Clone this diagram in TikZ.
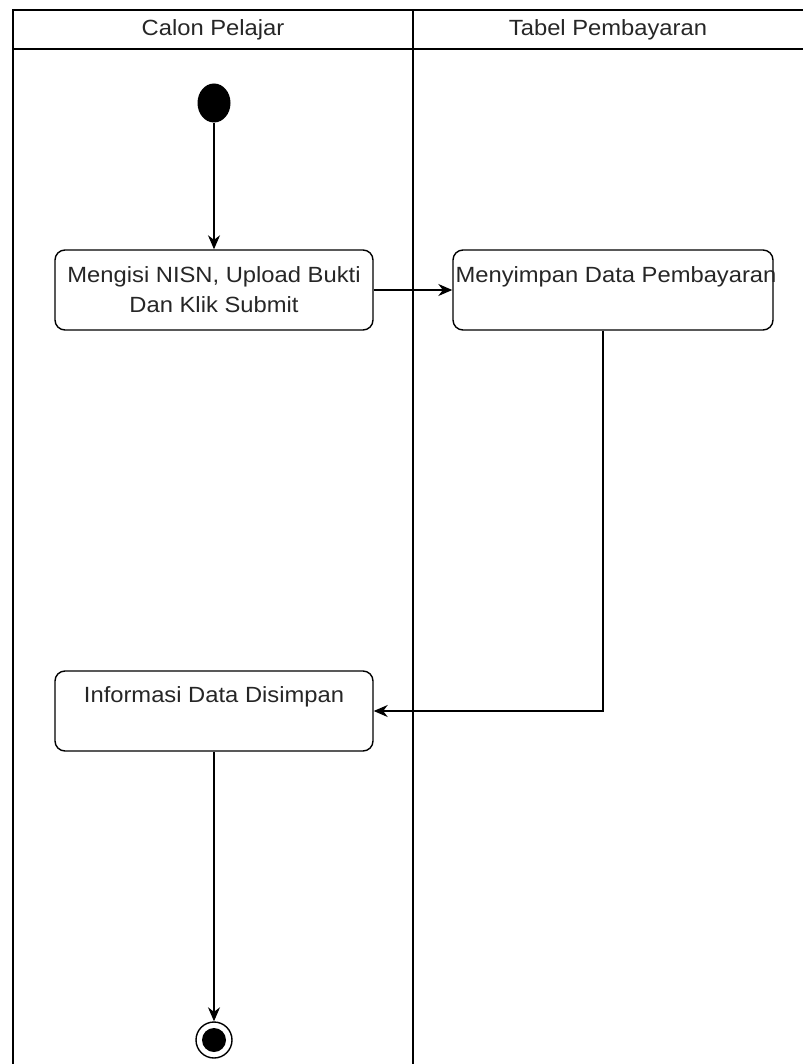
\documentclass[tikz,border=0pt]{standalone}
\usepackage{fontspec}
\setmainfont{Liberation Sans}[FakeStretch=1.08]
\usetikzlibrary{arrows.meta,shapes.geometric}
\begin{document}
\begin{tikzpicture}[x=1pt,y=-1pt,
  lane/.style={line width=1.4pt, draw=black},
  act/.style={draw=black, line width=1.4pt, rounded corners=10pt},
  lbl/.style={inner sep=0pt, font=\fontsize{22}{28}\selectfont, text=black!85},
  flow/.style={line width=1.3pt, -{Stealth[length=14pt,width=12pt]}},
  plain/.style={line width=1.3pt}]
\useasboundingbox (0,0) rectangle (803,1064);
% swimlanes
\draw[lane] (13,1064) -- (13,10) -- (803,10);
\draw[lane] (13,49) -- (803,49);
\draw[lane] (413,10) -- (413,1064);
\node[lbl] (h1) at (213,30) {Calon Pelajar};
\node[lbl] (h2) at (608,30) {Tabel Pembayaran};
% start
\node[fill=black, ellipse, minimum width=33pt, minimum height=39pt, inner sep=0pt] (start) at (214,103) {};
% activities
\node[act, minimum width=318pt, minimum height=80pt, inner sep=0pt] (a1) at (214,290) {};
\node[lbl] (t1a) at (214,277) {Mengisi NISN, Upload Bukti};
\node[lbl] (t1b) at (214,305) {Dan Klik Submit};
\node[act, minimum width=320pt, minimum height=80pt, inner sep=0pt] (a2) at (613,290) {};
\node[lbl] (t2) at (616,277) {Menyimpan Data Pembayaran};
\node[act, minimum width=318pt, minimum height=80pt, inner sep=0pt] (a3) at (214,711) {};
\node[lbl] (t3) at (214,697) {Informasi Data Disimpan};
% end
\node[draw=black, line width=1.4pt, circle, minimum size=36pt, inner sep=0pt] (end) at (214,1040) {};
\node[fill=black, circle, minimum size=24pt, inner sep=0pt] (endin) at (214,1040) {};
\coordinate (a2out) at ([xshift=-10pt]a2.south);
% flows
\draw[flow] (start) -- (a1);
\draw[flow] (a1) -- (a2);
\draw[flow] (a2out) |- (a3.east);
\draw[flow] (a3) -- (end);
\end{tikzpicture}
\end{document}
